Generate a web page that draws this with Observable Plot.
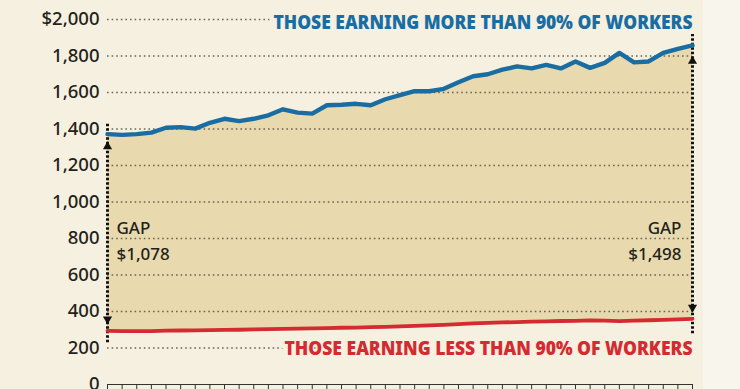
<!DOCTYPE html>
<html>
<head>
<meta charset="utf-8">
<script src="https://cdn.jsdelivr.net/npm/d3@7"></script>
<script src="https://cdn.jsdelivr.net/npm/@observablehq/plot@0.6"></script>
<style>
  html, body { margin: 0; padding: 0; overflow: hidden; }
  body {
    width: 740px; height: 389px;
    background: linear-gradient(to right, #f5f0e0 0, #f5f0e0 703px, #f8f5ec 703px);
  }
  #chart svg { display: block; }
</style>
</head>
<body>
<div id="chart"></div>
<script>
// ---- data ----
const years = [1979,1980,1981,1982,1983,1984,1985,1986,1987,1988,1989,1990,1991,1992,1993,1994,1995,1996,1997,1998,1999,2000,2001,2002,2003,2004,2005,2006,2007,2008,2009,2010,2011,2012,2013,2014,2015,2016,2017,2018,2019];
const highEarners = [1372,1368,1372,1380,1407,1410,1402,1434,1456,1443,1456,1475,1508,1490,1484,1530,1533,1538,1530,1563,1585,1607,1607,1620,1656,1689,1700,1725,1743,1732,1751,1732,1770,1735,1762,1817,1765,1770,1817,1839,1858];
const lowEarners = [294,293,292,293,295,296,297,298,299,300,302,303,305,306,307,309,311,312,314,316,318,321,324,327,331,335,338,340,342,344,346,348,349,351,350,347,350,352,354,357,360];
const yTicks = [0,200,400,600,800,1000,1200,1400,1600,1800,2000];
const yTickLabels = ["0","200","400","600","800","1,000","1,200","1,400","1,600","1,800","$2,000"];
const topLabel = "THOSE EARNING MORE THAN 90% OF WORKERS";
const bottomLabel = "THOSE EARNING LESS THAN 90% OF WORKERS";
const gapWord = "GAP";

// ---- build ----
const rows = years.map((year, i) => ({year, high: highEarners[i], low: lowEarners[i]}));
const first = rows[0], last = rows[rows.length - 1];
const money = d3.format("$,");
const bg = "#f5f0e0";
const ink = "#231f1a";
const gapLabelLevel = 800;

const chart = Plot.plot({
  width: 740,
  height: 389,
  marginLeft: 107,
  marginRight: 48,
  marginTop: 19,
  marginBottom: 5,
  style: {background: "transparent", fontFamily: "'Noto Sans', sans-serif", fontSize: "18px", overflow: "visible"},
  x: {domain: [years[0], years[years.length - 1]], axis: null},
  y: {domain: [0, 2000], axis: null},
  marks: [
    Plot.areaY(rows, {x: "year", y1: "low", y2: "high", fill: "#e8daae"}),
    Plot.ruleY(yTicks.filter(d => d > 0), {stroke: "#6b6558", strokeWidth: 1.6, strokeDasharray: "1.6,3"}),
    Plot.text(yTicks, {y: d => d, text: (d, i) => yTickLabels[i], frameAnchor: "left", textAnchor: "end", dx: -8, fontSize: 18.5, fontWeight: 500, fill: ink}),
    Plot.axisX({ticks: years, tickSize: 8, tickFormat: () => "", label: null, stroke: "#333"}),
    Plot.ruleY([0], {stroke: "#333", strokeWidth: 1}),
    // gap arrows
    Plot.ruleX([first], {x: "year", y1: "low", y2: "high", stroke: "#111", strokeWidth: 3, strokeDasharray: "2.5,2", insetTop: 12, insetBottom: 10}),
    Plot.ruleX([last], {x: "year", y1: "low", y2: "high", stroke: "#111", strokeWidth: 3, strokeDasharray: "2.5,2", insetTop: 15, insetBottom: 11}),
    Plot.dot([first], {x: "year", y: "high", symbol: "triangle", r: 3.4, fill: "#111", stroke: "none", dy: 12.5}),
    Plot.dot([last], {x: "year", y: "high", symbol: "triangle", r: 3.4, fill: "#111", stroke: "none", dy: 15.8}),
    Plot.dot([first], {x: "year", y: "low", symbol: "triangle", r: 3.4, fill: "#111", stroke: "none", rotate: 180, dy: -11.7}),
    Plot.dot([last], {x: "year", y: "low", symbol: "triangle", r: 3.4, fill: "#111", stroke: "none", rotate: 180, dy: -11.3}),
    // lines
    Plot.line(rows, {x: "year", y: "low", stroke: "#d42a30", strokeWidth: 3.8}),
    Plot.line(rows, {x: "year", y: "high", stroke: "#1a6da2", strokeWidth: 4.4}),
    // gap labels
    Plot.text([first], {x: "year", y: () => gapLabelLevel, text: d => `${gapWord}\n${money(d.high - d.low)}`, textAnchor: "start", dx: 9, fontSize: 17, lineHeight: 1.53, fill: ink, fontWeight: 500}),
    Plot.text([last], {x: "year", y: () => gapLabelLevel, text: d => `${gapWord}\n${money(d.high - d.low)}`, textAnchor: "end", dx: -11, fontSize: 17, lineHeight: 1.53, fill: ink, fontWeight: 500}),
    // series titles
    Plot.text([topLabel], {text: d => d, frameAnchor: "top-right", lineAnchor: "middle", dy: 4, fontSize: 18.6, fontWeight: 900, fill: "#1a6da2", stroke: bg, strokeWidth: 10, paintOrder: "stroke"}),
    Plot.text([bottomLabel], {text: d => d, frameAnchor: "bottom-right", lineAnchor: "middle", dy: -35, fontSize: 18.6, fontWeight: 900, fill: "#d42a30", stroke: bg, strokeWidth: 10, paintOrder: "stroke"})
  ]
});

// condense the two series titles to the reference width
chart.querySelectorAll("text").forEach(t => {
  if (t.textContent === topLabel) { t.setAttribute("textLength", 419); t.setAttribute("lengthAdjust", "spacingAndGlyphs"); }
  if (t.textContent === bottomLabel) { t.setAttribute("textLength", 408); t.setAttribute("lengthAdjust", "spacingAndGlyphs"); }
});

document.getElementById("chart").appendChild(chart);
</script>
</body>
</html>
